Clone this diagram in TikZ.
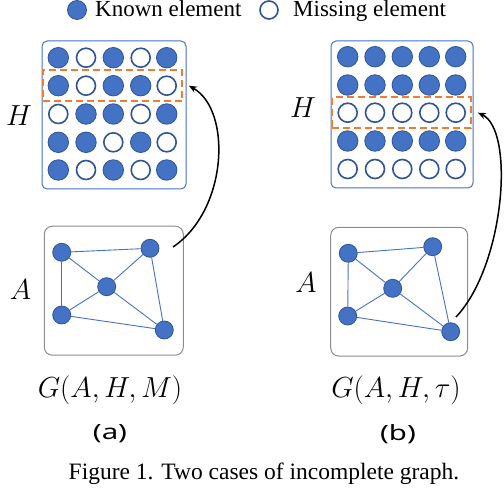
\RequirePackage{fix-cm}
\documentclass[tikz,border=0pt]{standalone}
\usepackage{fontspec}
\setmainfont{Liberation Serif}
\newfontfamily\labfont[FakeStretch=1.4]{Noto Sans}
\usetikzlibrary{arrows.meta,fit}
\definecolor{kblue}{HTML}{4472C4}
\definecolor{dblue}{HTML}{2F5597}
\definecolor{orng}{HTML}{ED7D31}
\definecolor{gbox}{HTML}{8C8C8C}
\tikzset{
 kn/.style={circle,fill=kblue,draw=dblue,line width=0.8pt,minimum size=20.5pt,inner sep=0pt},
 ms/.style={circle,fill=white,draw=dblue,line width=1.6pt,minimum size=19pt,inner sep=0pt},
 gnode/.style={circle,fill=kblue,draw=dblue,line width=0.8pt,minimum size=18pt,inner sep=0pt},
 gedge/.style={draw=kblue,line width=0.9pt},
 hbox/.style={draw=kblue,line width=1pt,rounded corners=5pt,inner sep=0pt},
 abox/.style={draw=gbox,line width=1pt,rounded corners=8pt,inner sep=0pt},
 rowbox/.style={draw=orng,line width=1.8pt,dash pattern=on 7pt off 4pt,inner sep=5pt},
 arr/.style={draw=black,line width=1.5pt,-{Stealth[length=8pt,width=6.5pt]}},
 mathlab/.style={font=\fontsize{29}{34}\selectfont,inner sep=0pt},
 txt/.style={font=\fontsize{23}{27}\selectfont,inner sep=0pt},
 sublab/.style={font=\labfont\fontsize{21}{25}\selectfont,inner sep=0pt},
}
\begin{document}
\begin{tikzpicture}[x=1pt,y=-1pt]
\useasboundingbox (0,0) rectangle (504,492);
% legend
\node[kn,minimum size=19pt] (lk) at (77,10) {};
\node[txt,anchor=base west] (lkt) at (95,17) {Known element};
\node[ms,minimum size=18pt] (lm) at (269,10) {};
\node[txt,anchor=base west] (lmt) at (293,17) {Missing element};
% H boxes
\node[hbox,minimum width=144pt,minimum height=148pt] (Ha) at (114,115) {};
\node[hbox,minimum width=142pt,minimum height=147pt] (Hb) at (402,114.5) {};
% grid a
\foreach \r/\y/\va/\vb/\vc/\vd/\ve in {1/57.7/kn/ms/kn/ms/kn, 2/85.7/kn/ms/kn/kn/ms, 3/114/ms/kn/kn/ms/kn, 4/142.3/kn/kn/ms/kn/ms, 5/170/kn/ms/kn/ms/kn}{
  \foreach \c/\x/\s in {1/58.3/\va,2/86/\vb,3/113.3/\vc,4/140.7/\vd,5/166.7/\ve}{
    \node[\s] (a\r\c) at (\x,\y) {};
  }
}
% grid b
\foreach \r/\y/\s in {1/56.7/kn, 2/85/kn, 3/112.7/ms, 4/141/kn, 5/169/ms}{
  \foreach \c/\x in {1/347.7,2/375,3/402.3,4/429.3,5/455.7}{
    \node[\s] (b\r\c) at (\x,\y) {};
  }
}
\node[rowbox,fit=(a21)(a25)] (ra) {};
\node[rowbox,fit=(b31)(b35)] (rb) {};
% graph a
\node[abox,minimum width=139pt,minimum height=129pt] (Aa) at (113.8,290.7) {};
\node[gnode] (ga1) at (61.7,252.3) {};
\node[gnode] (ga2) at (150,248.3) {};
\node[gnode] (ga3) at (106.7,286.7) {};
\node[gnode] (ga4) at (61.7,315) {};
\node[gnode] (ga5) at (164.3,330) {};
\foreach \u/\v in {1/2,1/3,1/4,2/3,2/5,3/4,3/5,4/5}{
  \draw[gedge] (ga\u) -- (ga\v);
}
% graph b
\node[abox,minimum width=137pt,minimum height=128.7pt] (Ab) at (399.2,291.7) {};
\node[gnode] (gb1) at (348.3,253.3) {};
\node[gnode] (gb2) at (432.7,246.7) {};
\node[gnode] (gb3) at (392.7,288.3) {};
\node[gnode] (gb4) at (347.7,316) {};
\node[gnode] (gb5) at (450.7,331.7) {};
\foreach \u/\v in {1/2,1/3,1/4,2/3,2/5,3/4,3/5,4/5}{
  \draw[gedge] (gb\u) -- (gb\v);
}
% arrows
\coordinate (sa) at (173,247);
\coordinate (sb) at (456,317);
\draw[arr] (sa) .. controls (228,210) and (232,110) .. ([xshift=6pt]ra.east);
\draw[arr] (sb) .. controls (505,265) and (515,130) .. ([xshift=6pt]rb.east);
% labels
\node[mathlab] (Hla) at (19,115.5) {$H$};
\node[mathlab] (Ala) at (20.5,289.5) {$A$};
\node[mathlab] (Hlb) at (303,107.5) {$H$};
\node[mathlab] (Alb) at (306,283) {$A$};
\node[mathlab] (Ga) at (110,390) {$G(A,H,M)$};
\node[mathlab] (Gb) at (396,390) {$G(A,H,\tau)$};
\node[sublab] (sa1) at (110,434) {(a)};
\node[sublab] (sb1) at (398,434) {(b)};
\node[txt,font=\fontsize{23.5}{28}\selectfont,anchor=base] (cap) at (264,479) {Figure 1. Two cases of incomplete graph.};
\end{tikzpicture}
\end{document}
